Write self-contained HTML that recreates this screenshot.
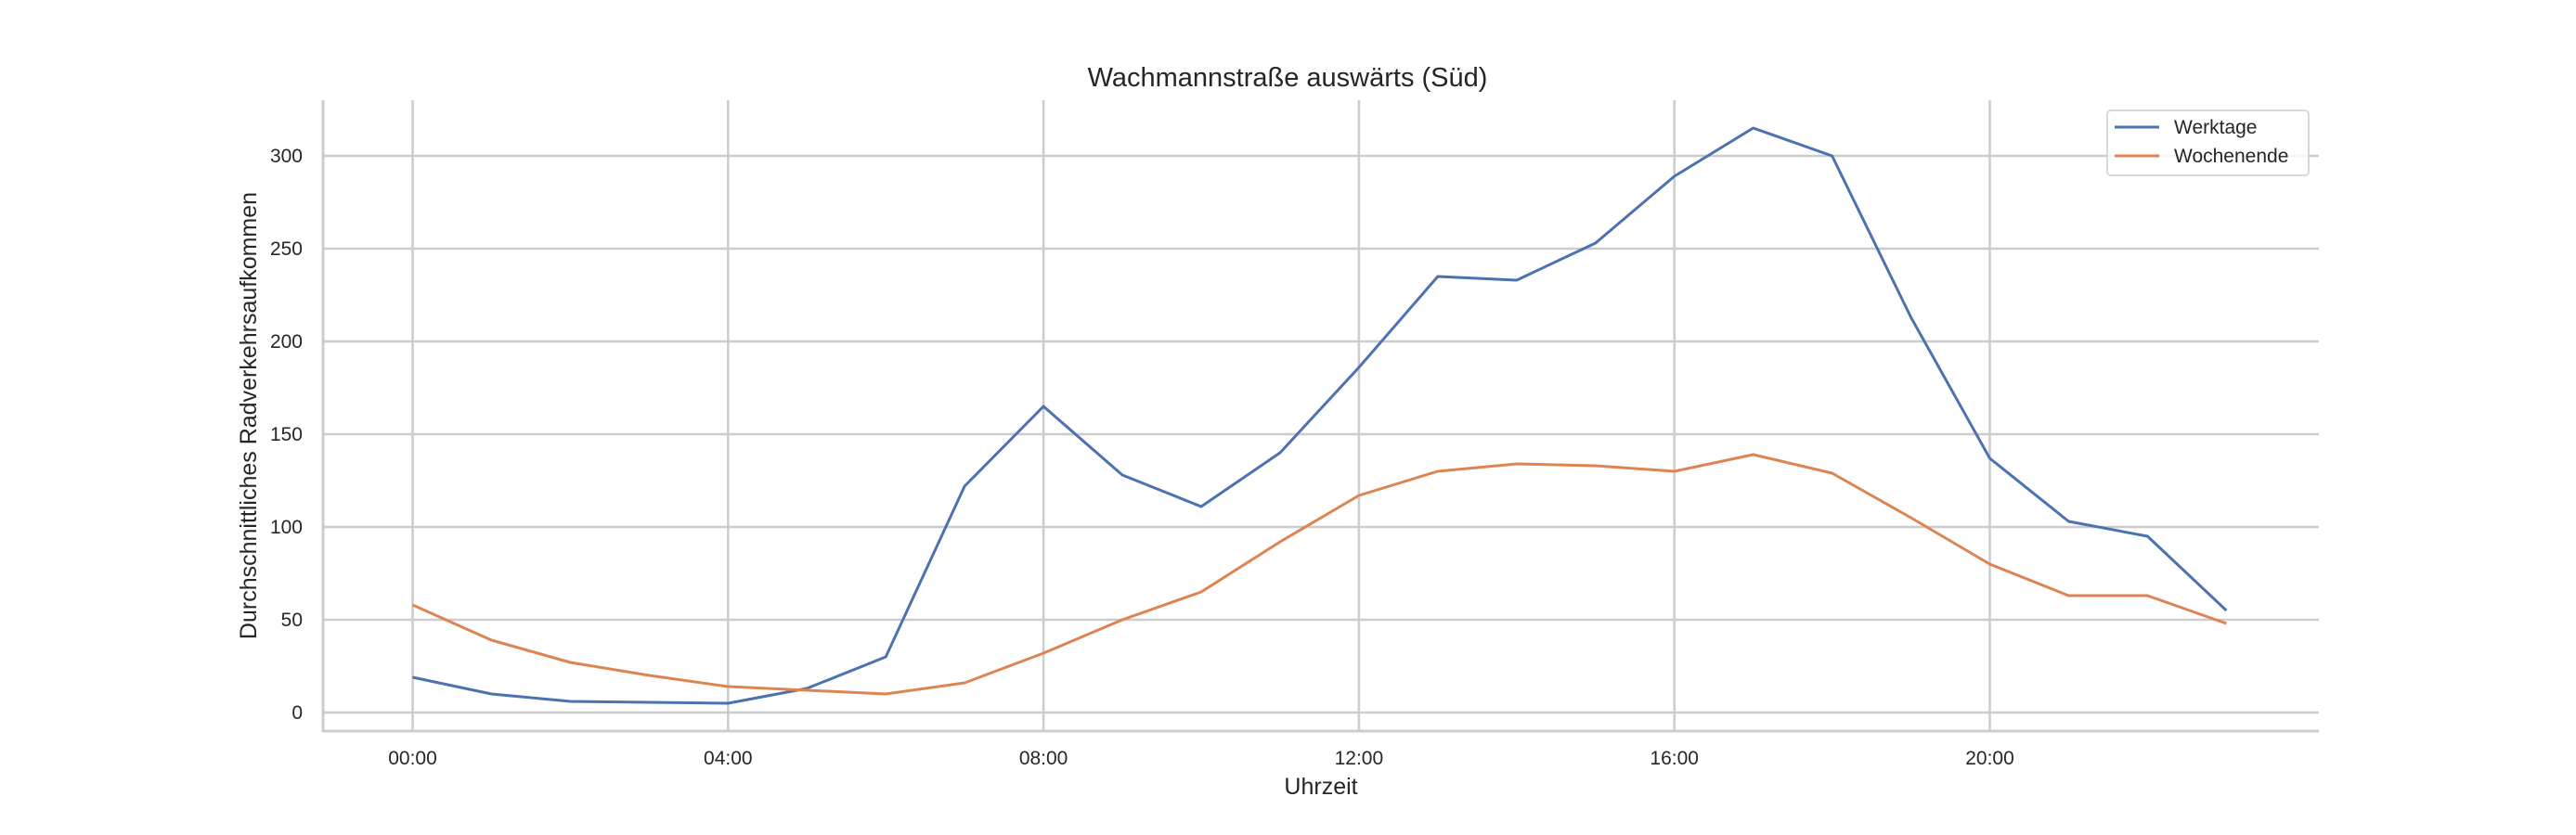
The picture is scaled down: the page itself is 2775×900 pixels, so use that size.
<!DOCTYPE html>
<html><head><meta charset="utf-8"><style>body{margin:0;background:#fff}svg{display:block}</style></head>
<body>
<svg width="2775" height="900" xmlns="http://www.w3.org/2000/svg" font-family="Liberation Sans, Arial, sans-serif" fill="#262626">
<g stroke="#cccccc" stroke-width="2.5">
<line x1="348" y1="768" x2="2498" y2="768"/><line x1="348" y1="668" x2="2498" y2="668"/><line x1="348" y1="568" x2="2498" y2="568"/><line x1="348" y1="468" x2="2498" y2="468"/><line x1="348" y1="368" x2="2498" y2="368"/><line x1="348" y1="268" x2="2498" y2="268"/><line x1="348" y1="168" x2="2498" y2="168"/>
<line x1="444.5" y1="108" x2="444.5" y2="788"/><line x1="784.3" y1="108" x2="784.3" y2="788"/><line x1="1124.1" y1="108" x2="1124.1" y2="788"/><line x1="1463.9" y1="108" x2="1463.9" y2="788"/><line x1="1803.7" y1="108" x2="1803.7" y2="788"/><line x1="2143.5" y1="108" x2="2143.5" y2="788"/>
</g>
<g stroke="#cccccc" stroke-width="3"><line x1="348" y1="108" x2="348" y2="789"/><line x1="346.5" y1="788" x2="2498" y2="788"/></g>
<g font-size="21" text-anchor="end">
<text x="326" y="775">0</text><text x="326" y="675">50</text><text x="326" y="575">100</text><text x="326" y="475">150</text><text x="326" y="375">200</text><text x="326" y="275">250</text><text x="326" y="175">300</text></g>
<g font-size="21" text-anchor="middle">
<text x="444.5" y="824">00:00</text><text x="784.3" y="824">04:00</text><text x="1124.1" y="824">08:00</text><text x="1463.9" y="824">12:00</text><text x="1803.7" y="824">16:00</text><text x="2143.5" y="824">20:00</text></g>
<text x="1387" y="93" font-size="29" text-anchor="middle">Wachmannstraße auswärts (Süd)</text>
<text x="1423" y="856" font-size="25" text-anchor="middle">Uhrzeit</text>
<text transform="translate(276,448) rotate(-90)" font-size="25" text-anchor="middle">Durchschnittliches Radverkehrsaufkommen</text>
<polyline fill="none" stroke="#4c72b0" stroke-width="3" stroke-linejoin="round" points="444.5,730 529.45,748 614.4,756 699.35,757 784.3,758 869.25,742 954.2,708 1039.15,524 1124.1,438 1209.05,512 1294,546 1378.95,488 1463.9,396 1548.85,298 1633.8,302 1718.75,262 1803.7,190 1888.65,138 1973.6,168 2058.55,342 2143.5,494 2228.45,562 2313.4,578 2398.35,658"/>
<polyline fill="none" stroke="#dd8452" stroke-width="3" stroke-linejoin="round" points="444.5,652 529.45,690 614.4,714 699.35,728 784.3,740 869.25,744 954.2,748 1039.15,736 1124.1,704 1209.05,668 1294,638 1378.95,584 1463.9,534 1548.85,508 1633.8,500 1718.75,502 1803.7,508 1888.65,490 1973.6,510 2058.55,558 2143.5,608 2228.45,642 2313.4,642 2398.35,672"/>
<rect x="2270" y="119" width="217" height="70" rx="4" fill="#fff" fill-opacity="0.8" stroke="#d8d8d8" stroke-width="2"/>
<line x1="2278" y1="137" x2="2326" y2="137" stroke="#4c72b0" stroke-width="3"/>
<line x1="2278" y1="168" x2="2326" y2="168" stroke="#dd8452" stroke-width="3"/>
<g font-size="21"><text x="2342" y="144">Werktage</text><text x="2342" y="175">Wochenende</text></g>
</svg>
</body></html>
